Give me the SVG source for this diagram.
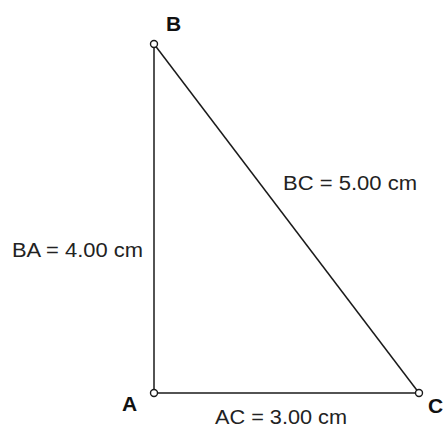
<svg xmlns="http://www.w3.org/2000/svg" width="443" height="430" viewBox="0 0 443 430">
<style>
.edge{stroke:#1a1a1a;stroke-width:1.5;fill:none}
.pt{fill:#fff;stroke:#1a1a1a;stroke-width:1.4}
.lbl{font-family:"Liberation Sans",Arial,sans-serif;font-weight:bold;font-size:21px;fill:#111}
.meas{font-family:"Liberation Sans",Arial,sans-serif;font-size:20px;fill:#222}
</style>
<rect width="443" height="430" fill="#fff"/>
<g id="connectors">
<line class="edge" x1="154" y1="44" x2="154" y2="393"/>
<line class="edge" x1="154" y1="393" x2="419" y2="393"/>
<line class="edge" x1="154" y1="44" x2="419" y2="393"/>
</g>
<g id="B"><circle class="pt" cx="154" cy="44" r="3.5"/><text class="lbl" x="166" y="31">B</text></g>
<g id="A"><circle class="pt" cx="154" cy="393" r="3.5"/><text class="lbl" x="122" y="411">A</text></g>
<g id="C"><circle class="pt" cx="419" cy="393" r="3.5"/><text class="lbl" x="428" y="413">C</text></g>
<g id="labels">
<text class="meas" x="12" y="257" textLength="131" lengthAdjust="spacingAndGlyphs">BA = 4.00 cm</text>
<text class="meas" x="283" y="190" textLength="134" lengthAdjust="spacingAndGlyphs">BC = 5.00 cm</text>
<text class="meas" x="215" y="424" textLength="132" lengthAdjust="spacingAndGlyphs">AC = 3.00 cm</text>
</g>
</svg>
